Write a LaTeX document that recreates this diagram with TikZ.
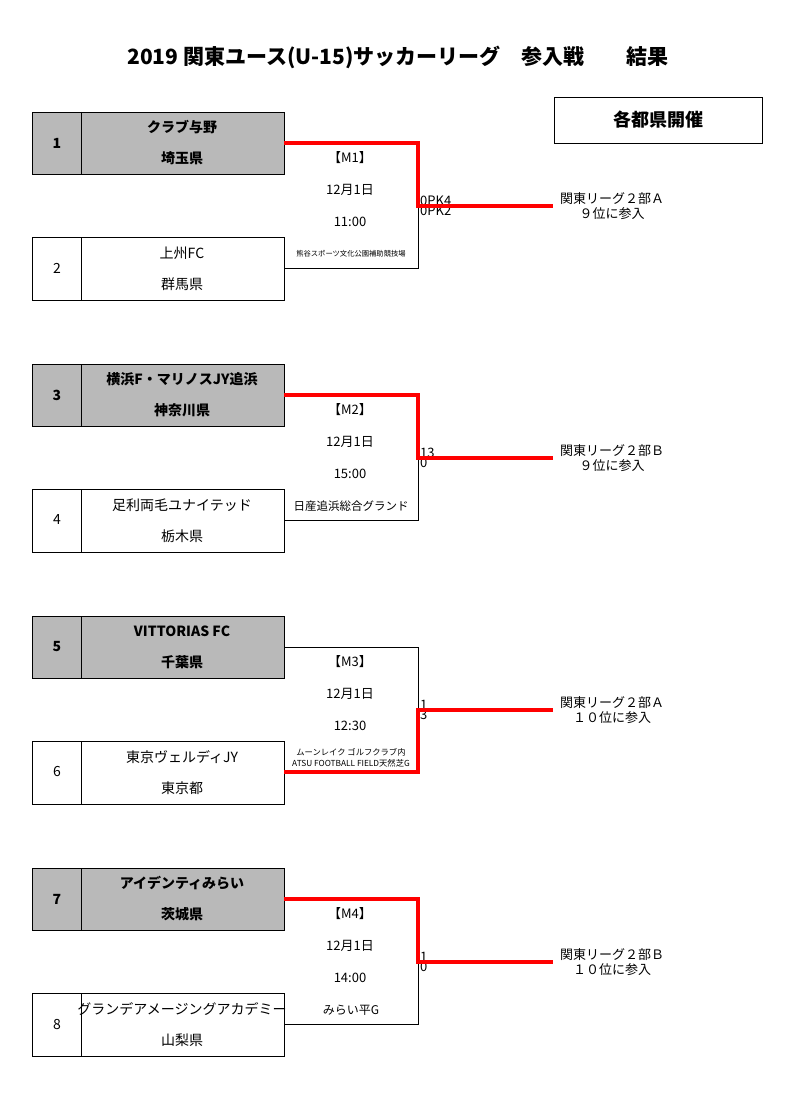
\documentclass[tikz,border=0pt]{standalone}
\usepackage{fontspec}
\setmainfont{Noto Sans CJK JP}
\begin{document}
\begin{tikzpicture}[x=1pt,y=-1pt,
  team/.style={font=\fontsize{14}{16}\selectfont},
  teamb/.style={font=\fontsize{14}{16}\selectfont\bfseries},
  info/.style={font=\fontsize{13}{15}\selectfont},
  red line/.style={draw=red,line width=3.5pt},
  blk/.style={draw=black,line width=0.9pt}]
\useasboundingbox (0,0) rectangle (800,1094);
\node[font=\fontsize{21}{24}\selectfont\bfseries] (title) at (398,57) {2019 関東ユース(U-15)サッカーリーグ\quad 参入戦\quad\quad 結果};
\draw[blk] (554,97) rectangle (762,143);
\node[font=\fontsize{18}{21}\selectfont\bfseries] (kaisai) at (658,120) {各都県開催};
% #1 offset, #2 top number, #3 top wins (1/0); text from macros
\newcommand\mblock[3]{%
\begin{scope}[yshift=-#1pt]
  \fill[gray!55] (32,112) rectangle (284,174);
  \draw[blk] (32,112) rectangle (284,174) (81,112) -- (81,174);
  \draw[blk] (32,237) rectangle (284,300) (81,237) -- (81,300);
  \node[teamb] (n#2) at (57,143) {#2};
  \node[teamb] (a#2) at (182,127) {\TA};
  \node[teamb] (p#2) at (182,158) {\TP};
  \node[team] (nb#2) at (57,268) {\the\numexpr#2+1\relax};
  \node[team] (ab#2) at (182,253) {\BA};
  \node[team] (pb#2) at (182,284) {\BP};
  \node[info] (m#2) at (350,158) {【\MM】};
  \node[info] (d#2) at (350,190) {12月1日};
  \node[info] (t#2) at (350,222) {\TT};
  \node (v#2) at (351,254) {\VV};
  \node[info,anchor=south west,inner sep=1pt] (s#2) at (419,207) {\SA};
  \node[info,anchor=north west,inner sep=1pt] (u#2) at (419,205) {\SB};
  \node[info,align=center] (r#2) at (612,206) {\RA\\\RB};
  \coordinate (c#2) at (418,143); \coordinate (e#2) at (418,268);
  \coordinate (j#2) at (418,206); \coordinate (k#2) at (553,206);
  \coordinate (o#2) at (284,143); \coordinate (q#2) at (284,268);
  \ifnum#3=1
    \draw[blk] (q#2) -- (e#2) -- (j#2);
    \draw[red line] (o#2) -- (c#2) -- (j#2) -- (k#2);
  \else
    \draw[blk] (o#2) -- (c#2) -- (j#2);
    \draw[red line] (q#2) -- (e#2) -- (j#2) -- (k#2);
  \fi
\end{scope}}
\def\TA{クラブ与野}\def\TP{埼玉県}\def\BA{上州FC}\def\BP{群馬県}\def\MM{M1}\def\TT{11:00}
\def\VV{\fontsize{7.3}{8}\selectfont 熊谷スポーツ文化公園補助競技場}\def\SA{0PK4}\def\SB{0PK2}\def\RA{関東リーグ２部Ａ}\def\RB{９位に参入}
\mblock{0}{1}{1}
\def\TA{横浜F・マリノスJY追浜}\def\TP{神奈川県}\def\BA{足利両毛ユナイテッド}\def\BP{栃木県}\def\MM{M2}\def\TT{15:00}
\def\VV{\fontsize{11.5}{13}\selectfont 日産追浜総合グランド}\def\SA{13}\def\SB{0}\def\RA{関東リーグ２部Ｂ}\def\RB{９位に参入}
\mblock{252}{3}{1}
\def\TA{VITTORIAS FC}\def\TP{千葉県}\def\BA{東京ヴェルディJY}\def\BP{東京都}\def\MM{M3}\def\TT{12:30}
\def\VV{\fontsize{8.3}{9.5}\selectfont\shortstack{ムーンレイク ゴルフクラブ内\\ATSU FOOTBALL FIELD天然芝G}}\def\SA{1}\def\SB{3}\def\RA{関東リーグ２部Ａ}\def\RB{１０位に参入}
\mblock{504}{5}{0}
\def\TA{アイデンティみらい}\def\TP{茨城県}\def\BA{グランデアメージングアカデミー}\def\BP{山梨県}\def\MM{M4}\def\TT{14:00}
\def\VV{\fontsize{12}{13}\selectfont みらい平G}\def\SA{1}\def\SB{0}\def\RA{関東リーグ２部Ｂ}\def\RB{１０位に参入}
\mblock{756}{7}{1}
\end{tikzpicture}
\end{document}
